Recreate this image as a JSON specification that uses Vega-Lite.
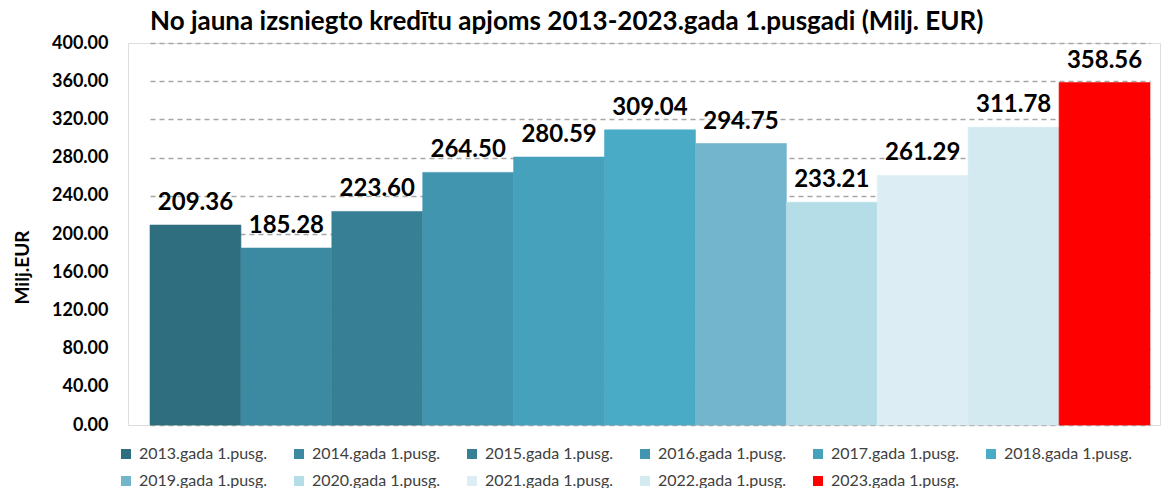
{
  "$schema": "https://vega.github.io/schema/vega-lite/v6.json",
  "width": 1032,
  "height": 382,
  "autosize": {"type": "none"},
  "padding": {"left": 128, "top": 43, "right": 9, "bottom": 63},
  "background": "white",
  "title": {
    "text": "No jauna izsniegto kredītu apjoms 2013-2023.gada 1.pusgadi (Milj. EUR)",
    "anchor": "start",
    "frame": "group",
    "dx": 22,
    "offset": -1,
    "font": "Lato",
    "fontSize": 26,
    "fontWeight": "bold",
    "color": "#000000"
  },
  "data": {
    "values": [
      {"period": "2013.gada 1.pusg.", "value": 209.36},
      {"period": "2014.gada 1.pusg.", "value": 185.28},
      {"period": "2015.gada 1.pusg.", "value": 223.60},
      {"period": "2016.gada 1.pusg.", "value": 264.50},
      {"period": "2017.gada 1.pusg.", "value": 280.59},
      {"period": "2018.gada 1.pusg.", "value": 309.04},
      {"period": "2019.gada 1.pusg.", "value": 294.75},
      {"period": "2020.gada 1.pusg.", "value": 233.21},
      {"period": "2021.gada 1.pusg.", "value": 261.29},
      {"period": "2022.gada 1.pusg.", "value": 311.78},
      {"period": "2023.gada 1.pusg.", "value": 358.56}
    ]
  },
  "encoding": {
    "x": {
      "field": "period",
      "type": "nominal",
      "sort": null,
      "axis": null,
      "scale": {"range": [22, 1022], "paddingInner": 0, "paddingOuter": 0}
    },
    "y": {
      "field": "value",
      "type": "quantitative",
      "scale": {"domain": [0, 400], "nice": false},
      "axis": {
        "values": [0, 40, 80, 120, 160, 200, 240, 280, 320, 360, 400],
        "format": ".2f",
        "domain": false,
        "ticks": false,
        "labelPadding": 20,
        "labelFont": "Lato",
        "labelFontSize": 18,
        "labelFontWeight": "bold",
        "labelColor": "#000000",
        "grid": true,
        "gridColor": "#A6A6A6",
        "gridDash": [5, 4],
        "gridWidth": 1.5,
        "title": "Milj.EUR",
        "titleFont": "Lato",
        "titleFontSize": 19,
        "titleFontWeight": "bold",
        "titleColor": "#000000",
        "titleAngle": 270,
        "titleX": -106,
        "titleY": 224,
        "titleAlign": "center",
        "titleBaseline": "middle"
      }
    }
  },
  "layer": [
    {
      "mark": {"type": "bar", "strokeWidth": 0.6},
      "encoding": {
        "color": {
          "field": "period",
          "type": "nominal",
          "sort": null,
          "scale": {
            "range": ["#2E6E7E", "#3C8AA2", "#367F94", "#4295AE", "#46A1BC", "#4AABC6", "#73B5CC", "#B5DDE7", "#DCEEF3", "#D4EAF1", "#FF0000"]
          },
          "legend": {
            "title": null,
            "orient": "none",
            "legendX": -10,
            "legendY": 403,
            "direction": "horizontal",
            "columns": 6,
            "columnPadding": 23,
            "rowPadding": 11,
            "symbolType": "square",
            "symbolSize": 100,
            "symbolStrokeWidth": 0,
            "labelFont": "Lato",
            "labelFontSize": 16,
            "labelColor": "#404040",
            "labelOffset": 5
          }
        },
        "stroke": {
          "field": "period",
          "type": "nominal",
          "sort": null,
          "legend": null,
          "scale": {
            "range": ["#2E6E7E", "#3C8AA2", "#367F94", "#4295AE", "#46A1BC", "#4AABC6", "#73B5CC", "#B5DDE7", "#DCEEF3", "#D4EAF1", "#FF0000"]
          }
        }
      }
    },
    {
      "mark": {
        "type": "text",
        "dy": -15,
        "baseline": "alphabetic",
        "font": "Lato",
        "fontSize": 24,
        "fontWeight": "bold",
        "color": "#000000"
      },
      "encoding": {
        "text": {"field": "value", "type": "quantitative", "format": ".2f"}
      }
    }
  ]
}
